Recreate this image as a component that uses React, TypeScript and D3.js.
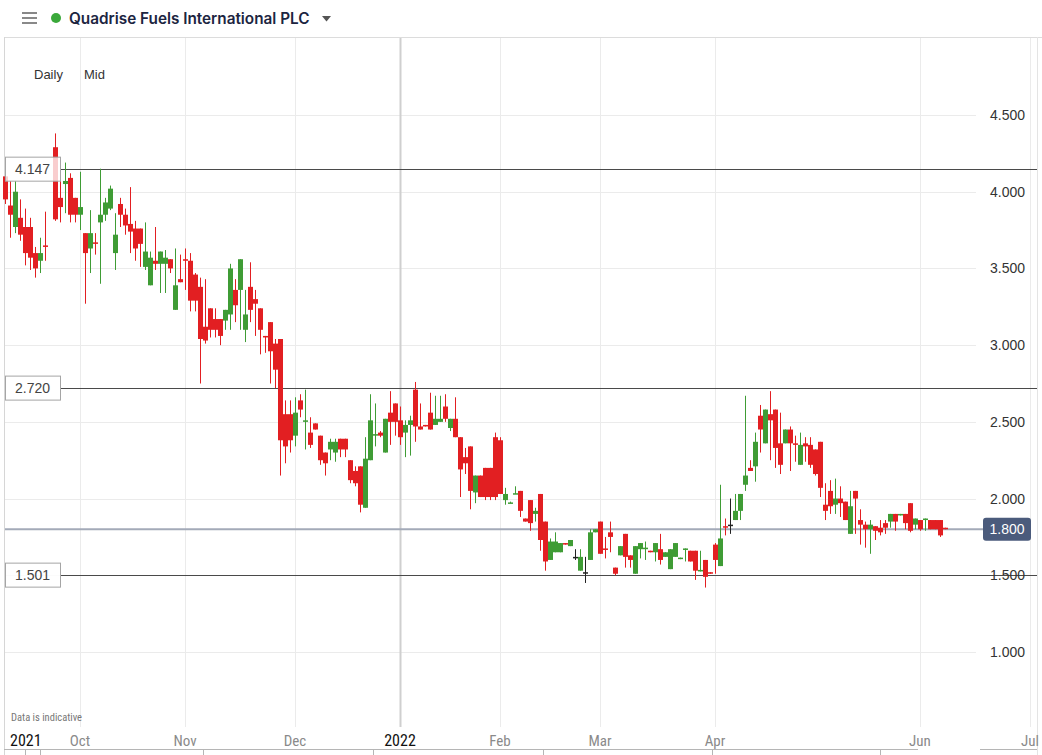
import React from "react";
import * as d3 from "d3";

const title = "Quadrise Fuels International PLC";
const intervalLabel = "Daily";
const priceTypeLabel = "Mid";
const footnote = "Data is indicative";
const startDate = "2021-09-10";
const holidays = ["2021-12-27", "2021-12-28", "2022-01-03", "2022-04-15", "2022-04-18"];

// [open, high, low, close] per trading day; null = no data
const ohlc: ([number, number, number, number] | null)[] = [
  [4.10,4.14,3.92,3.95],[3.91,4.07,3.70,3.85],[3.77,4.07,3.73,4.00],[3.83,3.95,3.68,3.72],[3.77,3.89,3.52,3.60],
  [3.77,3.83,3.49,3.57],[3.60,3.64,3.44,3.50],[3.55,3.70,3.47,3.60],[3.65,3.87,3.55,3.64],null,
  [4.29,4.38,3.81,3.82],[3.96,4.19,3.80,3.90],[4.05,4.19,3.86,4.07],[4.09,4.12,3.80,3.85],[3.96,3.96,3.80,3.85],
  [3.85,4.13,3.75,3.90],[3.73,3.73,3.27,3.60],[3.63,3.88,3.47,3.73],[3.67,3.73,3.59,3.66],[3.80,4.15,3.40,3.85],
  [3.85,3.96,3.81,3.93],[3.89,4.04,3.88,4.02],[3.60,3.86,3.49,3.72],[3.92,3.96,3.77,3.85],[3.85,3.89,3.72,3.78],
  [3.79,4.03,3.60,3.74],[3.76,3.81,3.55,3.63],[3.76,3.76,3.51,3.66],[3.51,3.80,3.49,3.61],[3.39,3.61,3.39,3.57],
  [3.55,3.77,3.49,3.53],[3.53,3.61,3.34,3.61],[3.53,3.62,3.34,3.57],[3.56,3.56,3.47,3.50],[3.23,3.63,3.23,3.39],
  [3.43,3.59,3.41,3.41],[3.56,3.63,3.36,3.55],[3.55,3.60,3.22,3.29],[3.46,3.47,3.22,3.29],[3.38,3.44,2.75,3.04],
  [3.12,3.43,3.01,3.03],[3.24,3.24,3.05,3.10],[3.17,3.24,3.05,3.10],[3.17,3.17,3.00,3.06],[3.16,3.23,3.10,3.23],
  [3.20,3.53,3.10,3.50],[3.36,3.43,3.15,3.26],[3.36,3.56,3.10,3.56],[3.10,3.36,3.02,3.20],[3.38,3.54,3.15,3.23],
  [3.30,3.36,3.06,3.27],[3.24,3.24,2.94,3.10],[3.06,3.06,2.95,3.05],[3.15,3.15,2.75,2.96],[3.01,3.04,2.72,2.84],
  [3.04,3.04,2.15,2.38],[2.55,2.64,2.23,2.34],[2.55,2.64,2.30,2.38],[2.41,2.66,2.34,2.56],[2.64,2.68,2.53,2.58],
  [2.50,2.71,2.32,2.51],[2.43,2.53,2.33,2.35],[2.49,2.49,2.45,2.45],[2.41,2.41,2.22,2.25],[2.30,2.30,2.15,2.23],
  [2.32,2.39,2.25,2.37],[2.30,2.39,2.24,2.37],[2.39,2.39,2.27,2.32],[2.39,2.39,2.27,2.32],[2.25,2.25,2.10,2.12],
  [2.18,2.21,2.08,2.10],[2.21,2.21,1.91,1.96],[1.94,2.40,1.94,2.26],[2.25,2.68,2.25,2.51],[2.41,2.62,2.34,2.42],
  [2.43,2.44,2.40,2.41],[2.30,2.52,2.30,2.52],[2.56,2.70,2.35,2.50],[2.62,2.62,2.41,2.50],[2.51,2.60,2.35,2.40],
  [2.43,2.51,2.27,2.48],[2.48,2.54,2.28,2.51],[2.71,2.76,2.37,2.47],[2.47,2.62,2.45,2.45],[2.48,2.48,2.47,2.47],
  [2.56,2.69,2.45,2.45],[2.48,2.67,2.48,2.52],[2.50,2.67,2.50,2.52],[2.60,2.68,2.50,2.52],[2.46,2.52,2.44,2.52],
  [2.52,2.66,2.40,2.40],[2.40,2.40,2.01,2.19],[2.27,2.33,2.16,2.23],[2.34,2.34,1.93,2.05],[2.04,2.15,1.97,2.15],
  [2.15,2.15,2.01,2.01],[2.20,2.20,1.99,2.01],[2.20,2.20,1.99,2.01],[2.40,2.43,1.99,2.01],[2.38,2.40,2.03,2.03],
  [1.99,2.07,1.96,2.03],[1.97,1.98,1.97,1.975],[2.03,2.08,2.03,2.035],[2.05,2.05,1.88,1.92],[1.87,1.87,1.85,1.85],
  [1.99,1.99,1.79,1.84],[1.90,1.94,1.85,1.92],[2.03,2.03,1.66,1.73],[1.85,1.85,1.53,1.59],[1.60,1.74,1.60,1.72],
  [1.65,1.78,1.65,1.72],[1.65,1.71,1.65,1.71],[1.71,1.71,1.70,1.70],[1.69,1.73,1.69,1.73],[1.62,1.67,1.60,1.62],
  [1.53,1.67,1.53,1.62],[1.52,1.62,1.45,1.52],[1.60,1.80,1.60,1.78],[1.78,1.80,1.78,1.80],[1.85,1.85,1.64,1.64],
  [1.675,1.75,1.61,1.665],[1.78,1.85,1.65,1.75],[1.55,1.55,1.50,1.51],[1.63,1.69,1.63,1.69],[1.77,1.77,1.55,1.62],
  [1.63,1.63,1.55,1.60],[1.51,1.69,1.51,1.69],[1.67,1.71,1.61,1.71],[1.67,1.72,1.60,1.68],[1.66,1.66,1.65,1.65],
  [1.65,1.71,1.59,1.71],[1.67,1.77,1.57,1.60],[1.62,1.65,1.62,1.65],[1.54,1.67,1.54,1.67],[1.62,1.71,1.62,1.71],
  [1.61,1.615,1.605,1.615],[1.665,1.675,1.59,1.675],[1.66,1.66,1.59,1.59],[1.66,1.66,1.47,1.53],[1.525,1.66,1.525,1.535],
  [1.60,1.60,1.42,1.49],[1.52,1.52,1.51,1.51],[1.70,1.71,1.51,1.60],[1.56,2.09,1.56,1.74],[1.82,1.87,1.76,1.81],
  [1.83,2.00,1.77,1.83],[1.86,2.03,1.86,1.92],[1.92,2.03,1.86,2.03],[2.09,2.67,2.05,2.15],[2.20,2.25,2.18,2.18],
  [2.21,2.43,2.11,2.37],[2.54,2.61,2.30,2.45],[2.36,2.58,2.36,2.58],[2.55,2.70,2.25,2.51],[2.58,2.58,2.20,2.33],
  [2.36,2.56,2.16,2.22],[2.36,2.45,2.36,2.45],[2.45,2.47,2.18,2.36],[2.36,2.41,2.24,2.35],[2.22,2.43,2.22,2.35],
  [2.36,2.40,2.24,2.34],[2.35,2.40,2.20,2.22],[2.32,2.32,2.15,2.16],[2.37,2.37,2.01,2.07],[1.96,2.10,1.86,1.92],
  [2.05,2.12,1.90,1.95],[1.96,2.13,1.90,2.00],[2.00,2.08,1.88,1.97],[1.98,1.98,1.86,1.86],[1.77,2.05,1.77,1.95],
  [2.05,2.05,1.77,2.00],[1.86,1.93,1.70,1.83],[1.83,1.85,1.68,1.80],[1.80,1.86,1.64,1.83],[1.82,1.82,1.73,1.79],
  [1.81,1.86,1.76,1.78],[1.84,1.86,1.77,1.81],[1.85,1.90,1.81,1.90],[1.90,1.90,1.79,1.85],[1.89,1.90,1.89,1.90],
  [1.90,1.90,1.80,1.84],[1.97,1.97,1.78,1.79],[1.83,1.87,1.80,1.87],[1.86,1.86,1.79,1.80],[1.86,1.87,1.79,1.87],
  [1.86,1.86,1.80,1.80],[1.86,1.86,1.80,1.80],[1.86,1.86,1.75,1.76],[1.81,1.81,1.80,1.80],
];

const yTicks = [1.0, 1.5, 2.0, 2.5, 3.0, 3.5, 4.0, 4.5];
const monthTickDates = ["2021-10-01", "2021-11-01", "2021-12-01", "2022-01-01", "2022-02-01", "2022-03-01", "2022-04-01", "2022-06-01", "2022-07-01"];
const monthTickLabels = ["Oct", "Nov", "Dec", "2022", "Feb", "Mar", "Apr", "Jun", "Jul"];
const yearTickLabels = ["2022"];
const firstYearLabel = "2021";
const levelValues = [4.147, 2.72, 1.501];
const lastPrice = 1.8;

const RED = "#e21f22";
const GREEN = "#3f9c35";

function tradingDays(start: string, n: number): string[] {
  const out: string[] = [];
  const d = new Date(start + "T12:00:00Z");
  const fmt = d3.utcFormat("%Y-%m-%d");
  while (out.length < n) {
    const wd = d.getUTCDay();
    const s = fmt(d);
    if (wd !== 0 && wd !== 6 && !holidays.includes(s)) out.push(s);
    d.setUTCDate(d.getUTCDate() + 1);
  }
  return out;
}

export default function App() {
  const W = 1042, H = 755;
  const days = tradingDays(startDate, 230);
  const x = d3.scaleLinear().domain([0, ohlc.length - 1]).range([5, 945]);
  const y = d3.scaleLinear().domain([1.0, 4.5]).range([652, 115]);
  const plotTop = 38, plotBottom = 727;
  const font = "'Liberation Sans', Arial, sans-serif";
  const narrow = "'Liberation Sans Narrow', 'Roboto Condensed', Roboto, sans-serif";

  const monthIdx = monthTickDates.map((t) => days.findIndex((d) => d >= t));

  return (
    <svg width={W} height={H} style={{ position: "absolute", left: 0, top: 0, background: "#fff" }}>
      {/* header */}
      <line x1={4} x2={W} y1={37.5} y2={37.5} stroke="#dcdcdc" />
      <line x1={4.5} x2={4.5} y1={37} y2={H} stroke="#d6d6d6" />
      <line x1={1037.5} x2={1037.5} y1={37} y2={H} stroke="#e4e4e4" />
      {[13, 18, 23].map((yy) => (
        <line key={yy} x1={22} x2={37} y1={yy} y2={yy} stroke="#6b6b6b" strokeWidth={1.6} />
      ))}
      <circle cx={56} cy={18} r={5} fill="#3aa83a" />
      <text x={69} y={24} fontFamily="Inter, 'Open Sans', sans-serif" fontWeight={600} fontSize={15.3} fill="#1c2541">{title}</text>
      <path d="M322,16 L331,16 L326.5,21.5 Z" fill="#555" />
      <text x={34} y={79} fontFamily={font} fontSize={13} fill="#333">{intervalLabel}</text>
      <text x={84} y={79} fontFamily={font} fontSize={13} fill="#333">{priceTypeLabel}</text>

      {/* horizontal gridlines */}
      {yTicks.map((t) => (
        <line key={t} x1={5} x2={976} y1={Math.round(y(t)) + 0.5} y2={Math.round(y(t)) + 0.5} stroke="#ebebeb" />
      ))}
      {/* vertical gridlines */}
      {monthIdx.map((i, k) => {
        const isYear = yearTickLabels.includes(monthTickLabels[k]);
        const xx = Math.round(x(i)) + 0.5;
        return (
          <line key={k} x1={xx} x2={xx} y1={plotTop} y2={plotBottom} stroke={isYear ? "#cfcfcf" : "#ebebeb"} strokeWidth={isYear ? 2 : 1} />
        );
      })}

      {/* level lines */}
      {levelValues.map((v) => (
        <line key={v} x1={60} x2={1037} y1={Math.round(y(v)) + 0.5} y2={Math.round(y(v)) + 0.5} stroke="#4a4a4a" />
      ))}
      <line x1={5} x2={983} y1={y(lastPrice)} y2={y(lastPrice)} stroke="#a3aab8" strokeWidth={2} />

      {/* candles */}
      {ohlc.map((c, i) => {
        if (!c) return null;
        const [o, h, l, cl] = c;
        const cx = Math.round(x(i));
        const col = cl > o ? GREEN : cl < o ? RED : "#222";
        const top = y(Math.max(o, cl));
        const bot = y(Math.min(o, cl));
        return (
          <g key={i}>
            <line x1={cx + 0.5} x2={cx + 0.5} y1={y(h)} y2={y(l)} stroke={col} strokeWidth={1} />
            <rect x={cx - 2} y={top} width={5} height={Math.max(1.5, bot - top)} fill={col} />
          </g>
        );
      })}

      {/* level label boxes */}
      {levelValues.map((v) => (
        <g key={"lb" + v}>
          <rect x={5.5} y={y(v) - 12} width={55} height={24} fill="#fff" fillOpacity={0.78} stroke="#a5a5a5" />
          <text x={15} y={y(v) + 5} fontFamily={font} fontSize={14} fill="#444">{v.toFixed(3)}</text>
        </g>
      ))}

      {/* right axis */}
      {yTicks.map((t) => (
        <text key={"t" + t} x={1025} y={y(t) + 5} textAnchor="end" fontFamily={font} fontSize={14} fill="#333">{t.toFixed(3)}</text>
      ))}
      <rect x={983} y={y(lastPrice) - 11.5} width={48} height={23} rx={3} fill="#4b5b7c" />
      <text x={1007} y={y(lastPrice) + 5} textAnchor="middle" fontFamily={font} fontSize={14} fill="#fff">{lastPrice.toFixed(3)}</text>

      {/* bottom axis */}
      <text x={11} y={721} fontFamily={narrow} fontSize={10.5} fill="#777">{footnote}</text>
      <text x={10} y={746} fontFamily={narrow} fontSize={16} fill="#111">{firstYearLabel}</text>
      {monthIdx.map((i, k) => {
        const isYear = yearTickLabels.includes(monthTickLabels[k]);
        return (
          <text key={"m" + k} x={x(i)} y={746} textAnchor="middle" fontFamily={narrow} fontSize={isYear ? 16 : 15} fill={isYear ? "#111" : "#8a8a8a"}>
            {monthTickLabels[k]}
          </text>
        );
      })}
      <line x1={4} x2={918} y1={749.5} y2={749.5} stroke="#b5b5b5" />
      <line x1={980} x2={1037} y1={749.5} y2={749.5} stroke="#b5b5b5" />
      {[25, 40, 203, 373, 543, 712, 880].map((xx) => (
        <line key={"n" + xx} x1={xx + 0.5} x2={xx + 0.5} y1={749} y2={H} stroke="#b5b5b5" />
      ))}
    </svg>
  );
}
